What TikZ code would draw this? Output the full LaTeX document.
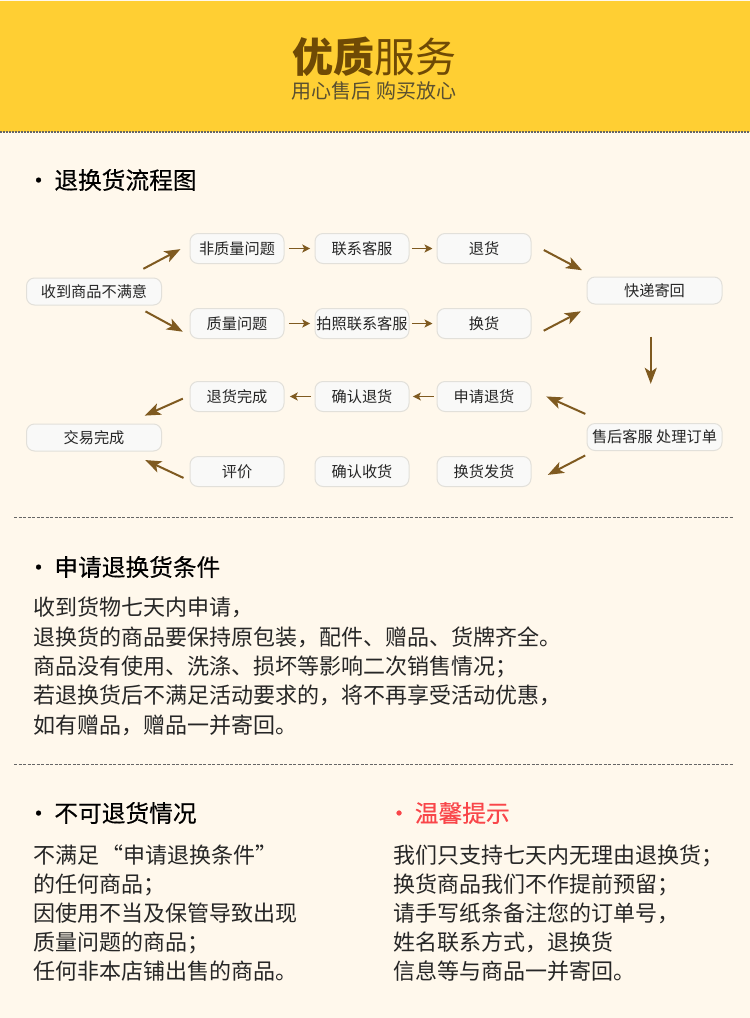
\documentclass[tikz,border=0pt]{standalone}
\usepackage{fontspec}
\setmainfont{Noto Sans CJK SC}
\newfontfamily\headfont[FakeBold=0.35]{Noto Sans CJK SC}
\usetikzlibrary{positioning}
\usetikzlibrary{arrows.meta}
\usetikzlibrary{calc}
\definecolor{headfill}{HTML}{FFCF33}
\definecolor{pagefill}{HTML}{FFF8EC}
\definecolor{flowbrown}{HTML}{7F5A20}
\definecolor{titlebrown}{HTML}{6F4A05}
\definecolor{subbrown}{HTML}{5A5030}
\definecolor{boxline}{HTML}{E2E0DA}
\definecolor{boxfill}{HTML}{F9F9F8}
\definecolor{warnred}{HTML}{F9464A}
\begin{document}
\begin{tikzpicture}
  [x=1pt,y=-1pt,
  stepbox/.style={draw=boxline,fill=boxfill,line width=1pt,rounded corners=8pt,inner sep=0pt,minimum width=94pt,minimum height=30pt,font=\fontsize{15.2}{16}\selectfont,text=black!85},
  widebox/.style={stepbox,minimum width=135pt,minimum height=27pt},
  smallflow/.style={draw=flowbrown,line width=1.5pt,-{Stealth[length=8pt,width=8pt,inset=2pt]}},
  bigflow/.style={draw=flowbrown,line width=2pt,-{Stealth[length=16pt,width=12pt,inset=4pt]}},
  heading/.style={anchor=west,inner sep=0pt,font=\headfont\fontsize{23.7}{24}\selectfont,text=black},
  para/.style={anchor=north west,inner sep=0pt,align=left,font=\fontsize{22}{29.4}\selectfont,text=black!85},
  sep/.style={draw=black!60,line width=0.7pt,dash pattern=on 3pt off 1.5pt}]
  \useasboundingbox (0,0) rectangle (750,1018);
  \fill[pagefill] (0,0) rectangle (750,1018);
  \fill[headfill] (0,1) rectangle (750,132);
  \draw[sep,line width=1.2pt,dash pattern=on 2pt off 1pt] (0,132) -- (750,132);

  \node[inner sep=0pt,text=titlebrown,font=\fontsize{41}{42}\selectfont] (title) at (374,57) {\textbf{优质}服务};
  \node[inner sep=0pt,text=subbrown,font=\fontsize{20}{21}\selectfont] (subtitle) at (374,90.5) {用心售后 购买放心};

  \node[heading] (flowhead) at (26.5,180) {・\hspace{4pt}退换货流程图};

  % first row
  \node[widebox] (21) at (94,291.5) {收到商品不满意};
  \node[stepbox] (12) at (237,248.5) {非质量问题};
  \node[stepbox] (13) at (362,248.5) {联系客服};
  \node[stepbox] (14) at (484,248.5) {退货};
  \node[stepbox] (32) at (237,323.5) {质量问题};
  \node[stepbox] (33) at (362,323.5) {拍照联系客服};
  \node[stepbox] (34) at (484,323.5) {换货};
  \node[widebox] (25) at (654.5,290.5) {快递寄回};

  % second row
  \node[stepbox] (52) at (237,396.5) {退货完成};
  \node[stepbox] (53) at (362,396.5) {确认退货};
  \node[stepbox] (54) at (484,396.5) {申请退货};
  \node[widebox] (41) at (94,437.5) {交易完成};
  \node[widebox] (65) at (654.5,437) {售后客服 处理订单};
  \node[stepbox] (72) at (237,471.5) {评价};
  \node[stepbox] (73) at (362,471.5) {确认收货};
  \node[stepbox] (74) at (484,471.5) {换货发货};

  \draw[bigflow,shorten <=18.5pt,shorten >=10.2pt] (21.23) -- (12.175.3);
  \draw[bigflow,shorten <=12.3pt,shorten >=7.6pt] (21.-19.4) -- (32.-166);
  \draw[smallflow,shorten <=4.3pt,shorten >=4.3pt] (12) -- (13);
  \draw[smallflow,shorten <=2.4pt,shorten >=4pt] (13) -- (14);
  \draw[smallflow,shorten <=4.3pt,shorten >=4.3pt] (32) -- (33);
  \draw[smallflow,shorten <=2.4pt,shorten >=4pt] (33) -- (34);
  \draw[bigflow,shorten <=13.9pt,shorten >=13.4pt] (14.6) -- (25.167.3);
  \draw[bigflow,shorten <=13.8pt,shorten >=14.6pt] (34.-16.4) -- (25.-167.1);
  \draw[bigflow,shorten <=32pt,shorten >=39.2pt] (25.-105.7) -- (65.105.7);
  \draw[smallflow,shorten <=3.3pt,shorten >=5.3pt] (53) -- (52);
  \draw[smallflow,shorten <=3pt,shorten >=3.4pt] (54) -- (53);

  \draw[bigflow,shorten <=7.3pt,shorten >=19.4pt] (52.179.5) -- (41.23.2);
  \draw[bigflow,shorten <=6.6pt,shorten >=20.2pt] (72.-169.7) -- (41.-23.1);
  \draw[bigflow,shorten <=22.3pt,shorten >=16.2pt] (65.164.4) -- (54.8.7);
  \draw[bigflow,shorten <=9.7pt,shorten >=18.4pt] (65.-167.3) -- (74.-14.8);

  \coordinate (sepa) at (14,517.5);
  \coordinate (sepb) at (733,517.5);
  \draw[sep] (sepa) -- (sepb);

  \node[heading] (condhead) at (26.5,567) {・\hspace{4pt}申请退换货条件};
  \node[para] (condtext) at (33.5,597) {收到货物七天内申请，\\退换货的商品要保持原包装，配件、赠品、货牌齐全。\\商品没有使用、洗涤、损坏等影响二次销售情况；\\若退换货后不满足活动要求的，将不再享受活动优惠，\\如有赠品，赠品一并寄回。};

  \coordinate (sepc) at (14,764.5);
  \coordinate (sepd) at (733,764.5);
  \draw[sep] (sepc) -- (sepd);

  \node[heading] (nohead) at (26.5,813) {・\hspace{4pt}不可退货情况};
  \node[para,font=\fontsize{22}{29}\selectfont] (notext) at (33.5,845) {不满足\hspace{2pt}“申请退换条件”\\的任何商品；\\因使用不当及保管导致出现\\质量问题的商品；\\任何非本店铺出售的商品。};
  \node[heading,text=warnred] (tiphead) at (387,813) {・\hspace{4pt}温馨提示};
  \node[para,font=\fontsize{22}{29}\selectfont] (tiptext) at (393,845) {我们只支持七天内无理由退换货；\\换货商品我们不作提前预留；\\请手写纸条备注您的订单号，\\姓名联系方式，退换货\\信息等与商品一并寄回。};
\end{tikzpicture}
\end{document}
